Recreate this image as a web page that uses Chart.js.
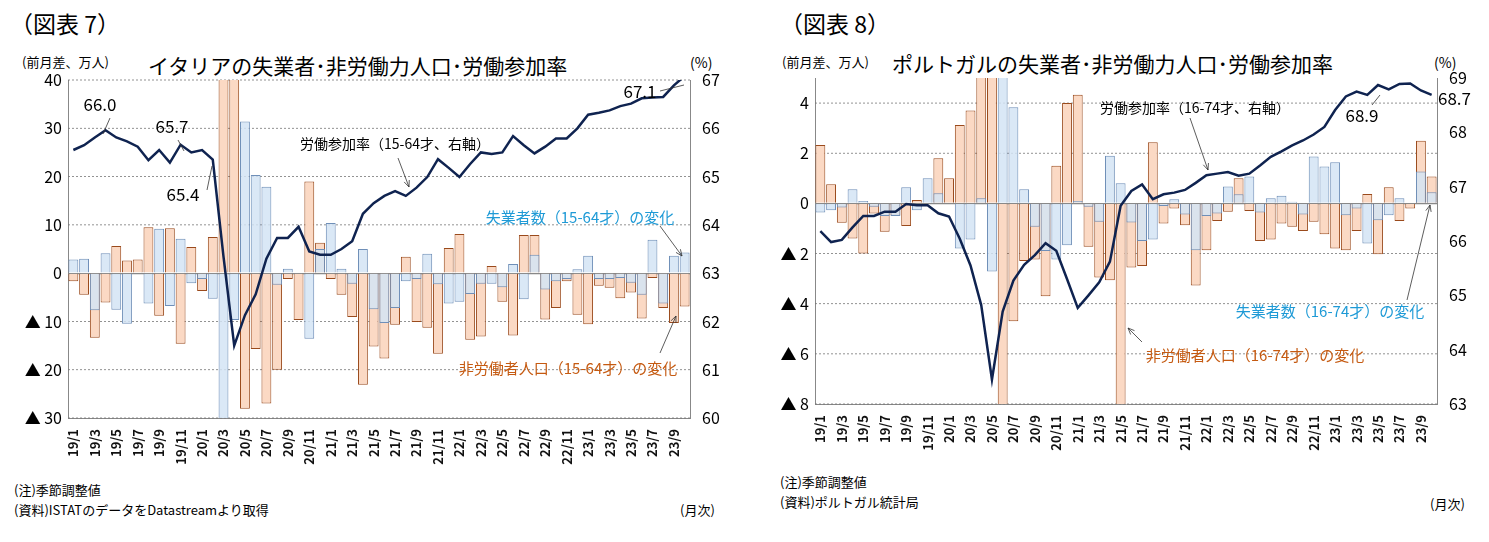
<!DOCTYPE html>
<html><head><meta charset="utf-8">
<script src="https://cdn.jsdelivr.net/npm/chart.js@4"></script>
<style>
body{margin:0;background:#fff;font-family:"Noto Sans CJK JP";color:#000;width:1489px;height:542px;position:relative;overflow:hidden}
.t{position:absolute;white-space:nowrap}
canvas{position:absolute}
</style></head><body>
<div class="t" style="left:10px;top:6px;font-size:23px">（図表 7）</div>
<div class="t" style="left:22px;top:52px;font-size:13px">(前月差、万人)</div>
<div class="t" style="left:148px;top:50px;font-size:21px">イタリアの失業者･非労働力人口･労働参加率</div>
<div class="t" style="left:690px;top:52px;font-size:14px">(%)</div>
<div class="t" style="left:14px;top:480px;font-size:13px">(注)季節調整値</div>
<div class="t" style="left:14px;top:500px;font-size:13px">(資料)ISTATのデータをDatastreamより取得</div>
<div class="t" style="left:680px;top:500px;font-size:13px">(月次)</div>

<div class="t" style="left:780px;top:6px;font-size:23px">（図表 8）</div>
<div class="t" style="left:782px;top:52px;font-size:13px">(前月差、万人)</div>
<div class="t" style="left:892px;top:48px;font-size:21px">ポルトガルの失業者･非労働力人口･労働参加率</div>
<div class="t" style="left:1434px;top:52px;font-size:14px">(%)</div>
<div class="t" style="left:780px;top:472px;font-size:13px">(注)季節調整値</div>
<div class="t" style="left:780px;top:492px;font-size:13px">(資料)ポルトガル統計局</div>
<div class="t" style="left:1430px;top:494px;font-size:13px">(月次)</div>

<canvas id="it" style="left:0;top:60px;width:735px;height:408px" width="735" height="408"></canvas>
<canvas id="pt" style="left:745px;top:58px;width:744px;height:396px" width="744" height="396"></canvas>
<script>
// 月
const months = [];
for (let y = 19; y <= 23; y++) for (let m = 1; m <= 12; m++) if (!(y === 23 && m > 10)) months.push(y + "/" + m);

// イタリア
const itUnemp = [2.8,3.0,-7.7,4.1,-7.6,-10.5,0,-6.3,9.2,-6.8,7.1,-2.1,-1.2,-5.3,-35,-9.7,31.4,20.3,17.9,-2.4,0.9,0,-13.6,5.0,10.4,0.9,-2.2,5.0,-7.5,-10.3,-7.2,-1.7,-1.2,4.0,-2.3,-6.3,-5.9,-4.3,-2.2,-2.2,-2.9,1.9,-5.4,3.8,-3.4,-1.7,-1.2,0.8,3.6,-1.2,-1.2,-1.0,-2.0,-4.5,6.9,-6.3,3.6,4.3];
const itInact = [-1.7,-4.5,-13.4,-6.1,5.6,2.6,2.8,9.5,-8.8,9.3,-14.6,5.4,-3.7,7.5,60,60,-28.1,-15.7,-27,-20,-1.2,-9.7,19.0,6.3,-1.2,-4.5,-9.1,-23.1,-15.2,-17.7,-10.7,3.4,-10.1,-11.3,-16.7,5.2,8.1,-13.8,-13.1,1.5,-5.9,-12.9,7.9,7.9,-9.6,-7.2,-1.7,-8.6,-10.6,-2.6,-3.0,-5.2,-4.0,-9.4,-1.0,-7.2,-10.3,-6.9];
const itRate = [65.55,65.65,65.81,65.96,65.81,65.73,65.62,65.34,65.55,65.29,65.66,65.5,65.55,65.35,63.34,61.5,62.13,62.56,63.3,63.73,63.73,63.96,63.45,63.38,63.38,63.5,63.66,64.23,64.45,64.6,64.7,64.6,64.77,64.99,65.36,65.18,64.99,65.26,65.5,65.47,65.5,65.84,65.65,65.48,65.62,65.79,65.79,66.0,66.28,66.32,66.37,66.46,66.51,66.62,66.64,66.65,66.89,67.08];
const itLeftTicks = [-30,-20,-10,0,10,20,30,40];
const itRightTicks = [60,61,62,63,64,65,66,67];

// ポルトガル
const ptUnemp = [-0.36,-0.27,-0.16,0.56,0.1,-0.13,-0.5,-0.5,0.64,-0.27,1.0,0.4,0,-1.8,-1.44,0.2,-2.72,7,3.83,0.56,-0.93,-1.9,-2.24,-1.67,0.1,-0.13,-0.73,1.9,0.8,-0.76,-1.5,-1.44,-0.1,0.16,-0.44,-1.87,-0.5,-0.4,0.67,0.36,1.07,-0.36,0.2,0.3,0.07,-0.44,1.87,1.47,1.64,-0.47,-0.2,-1.6,-0.67,-0.47,0.2,0,1.27,0.44];
const ptInact = [2.33,0.76,-0.77,-1.4,-2.0,-0.4,-1.13,-0.48,-0.9,0.13,0,1.8,1.0,3.13,3.7,6,7,-9,-4.7,-2.3,-2.24,-3.7,1.5,4.0,4.33,-1.73,-2.96,-3.07,-9,-2.56,-2.5,2.44,-0.8,-0.2,-0.87,-3.27,-1.87,-0.7,-0.33,1.0,-0.3,-1.5,-1.44,-0.8,-0.93,-1.1,-0.73,-1.23,-1.8,-1.87,-1.1,0.37,-2.03,0.64,-0.7,-0.2,2.5,1.07];
const ptRate = [66.18,65.98,66.02,66.25,66.46,66.46,66.54,66.54,66.68,66.66,66.66,66.51,66.45,66.04,65.55,64.82,63.45,64.7,65.27,65.56,65.74,65.96,65.82,65.3,64.77,65.0,65.24,65.62,66.65,66.92,67.04,66.77,66.86,66.89,66.94,67.07,67.21,67.24,67.27,67.2,67.24,67.39,67.55,67.65,67.76,67.85,67.96,68.1,68.41,68.66,68.75,68.69,68.87,68.79,68.89,68.9,68.77,68.69];
const ptLeftTicks = [-8,-6,-4,-2,0,2,4];
const ptRightTicks = [63,64,65,66,67,68,69];

const FONT = "Noto Sans CJK JP";
const neg = v => v < 0 ? "▲ " + (-v) : String(v);

// 注記（ピクセルは各キャンバス内）
function notes(list) {
  return {
    id: "notes",
    afterDatasetsDraw(chart) {
      const c = chart.ctx;
      c.save();
      list.forEach(n => {
        c.font = (n.size || 16) + "px " + FONT;
        c.fillStyle = n.color || "#000";
        c.textAlign = n.align || "center";
        c.textBaseline = "middle";
        c.fillText(n.text, n.x, n.y);
        if (n.line) {
          c.strokeStyle = "#333"; c.lineWidth = 0.8;
          c.beginPath(); c.moveTo(n.line[0], n.line[1]); c.lineTo(n.line[2], n.line[3]); c.stroke();
          if (n.arrow) {
            const a = Math.atan2(n.line[3] - n.line[1], n.line[2] - n.line[0]);
            c.beginPath();
            c.moveTo(n.line[2] - 7 * Math.cos(a - 0.4), n.line[3] - 7 * Math.sin(a - 0.4));
            c.lineTo(n.line[2], n.line[3]);
            c.lineTo(n.line[2] - 7 * Math.cos(a + 0.4), n.line[3] - 7 * Math.sin(a + 0.4));
            c.stroke();
          }
        }
      });
      c.restore();
    }
  };
}

function makeChart(id, unemp, inact, rate, lt, rt, leftW, rightW, note) {
  new Chart(id, {
    type: "bar",
    data: {
      labels: months,
      datasets: [
        { type: "line", data: rate, yAxisID: "y2", borderColor: "#0f2350", borderWidth: 2.5, pointRadius: 0, tension: 0, order: 0 },
        { data: unemp, backgroundColor: "rgba(212,228,245,0.85)", borderColor: "#6f8fb8", borderWidth: 1, order: 1 },
        { data: inact, backgroundColor: "#fbd9c4", borderColor: "#9a4a1c", borderWidth: 1, order: 2 }
      ]
    },
    options: {
      responsive: false, animation: false,
      layout: { padding: { top: 20, left: 0, right: 0 } },
      plugins: { legend: { display: false }, tooltip: { enabled: false } },
      datasets: { bar: { grouped: false, barPercentage: 0.92, categoryPercentage: 1 } },
      scales: {
        x: {
          grid: { display: false }, border: { color: "#888" },
          afterFit: s => { s.height = 50; },
          ticks: { autoSkip: false, minRotation: 90, maxRotation: 90, font: { family: FONT, size: 13, weight: "bold" }, color: "#111",
            callback: (v, i) => i % 2 === 0 ? months[i] : "" }
        },
        y: {
          min: lt[0], max: id === "pt" ? 5 : lt[lt.length - 1],
          afterFit: s => { s.width = leftW; },
          afterBuildTicks: s => { s.ticks = lt.map(v => ({ value: v })); },
          grid: { color: c => c.tick.value === 0 ? "#888" : "rgba(0,0,0,0)", lineWidth: 1.2, drawTicks: false },
          border: { color: "#888" },
          ticks: { font: { family: FONT, size: 16 }, color: "#000", padding: 6, callback: v => neg(v) }
        },
        y2: {
          position: "right", min: rt[0], max: rt[rt.length - 1],
          afterFit: s => { s.width = rightW; },
          afterBuildTicks: s => { s.ticks = rt.map(v => ({ value: v })); },
          grid: { display: false }, border: { color: "#888" },
          ticks: { font: { family: FONT, size: 16 }, color: "#000", padding: 4 }
        }
      }
    },
    plugins: [{
      id: "dots",
      beforeDatasetsDraw(chart) {
        const y = chart.scales.y, a = chart.chartArea, c = chart.ctx;
        c.save(); c.strokeStyle = "#777"; c.setLineDash([2, 2]); c.lineWidth = 0.8;
        lt.forEach(v => { if (v !== 0) { const p = y.getPixelForValue(v); c.beginPath(); c.moveTo(a.left, p); c.lineTo(a.right, p); c.stroke(); } });
        c.restore();
      }
    }, notes(note)]
  });
}

makeChart("it", itUnemp, itInact, itRate, itLeftTicks, itRightTicks, 68, 45, [
  { text: "66.0", x: 100, y: 45, size: 17, line: [110, 58, 103, 74] },
  { text: "65.7", x: 172, y: 67, size: 17, line: [178, 80, 184, 91] },
  { text: "65.4", x: 183, y: 135, size: 17, line: [207, 130, 212, 106] },
  { text: "67.1", x: 640, y: 32, size: 17, line: [660, 31, 684, 25] },
  { text: "労働参加率（15-64才、右軸）", x: 395, y: 84, size: 14, line: [398, 98, 409, 127], arrow: true },
  { text: "失業者数（15-64才）の変化", x: 580, y: 157, size: 15, color: "#1e9ad6", line: [660, 166, 682, 196], arrow: true },
  { text: "非労働者人口（15-64才）の変化", x: 568, y: 308, size: 15, color: "#c55a11", line: [660, 293, 676, 256], arrow: true }
]);

makeChart("pt", ptUnemp, ptInact, ptRate, ptLeftTicks, ptRightTicks, 70, 52, [
  { text: "68.9", x: 1362 - 745, y: 58, size: 17, line: [1372 - 745, 47, 1380 - 745, 37] },
  { text: "68.7", x: 1438 - 745, y: 41, size: 17, align: "left" },
  { text: "労働参加率（16-74才、右軸）", x: 1195 - 745, y: 50, size: 14, line: [1190 - 745, 60, 1208 - 745, 112], arrow: true },
  { text: "失業者数（16-74才）の変化", x: 1330 - 745, y: 253, size: 15, color: "#1e9ad6", line: [1407 - 745, 242, 1430 - 745, 147], arrow: true },
  { text: "非労働者人口（16-74才）の変化", x: 1255 - 745, y: 297, size: 15, color: "#c55a11", line: [1142 - 745, 284, 1128 - 745, 270], arrow: true }
]);
</script>
</body></html>
